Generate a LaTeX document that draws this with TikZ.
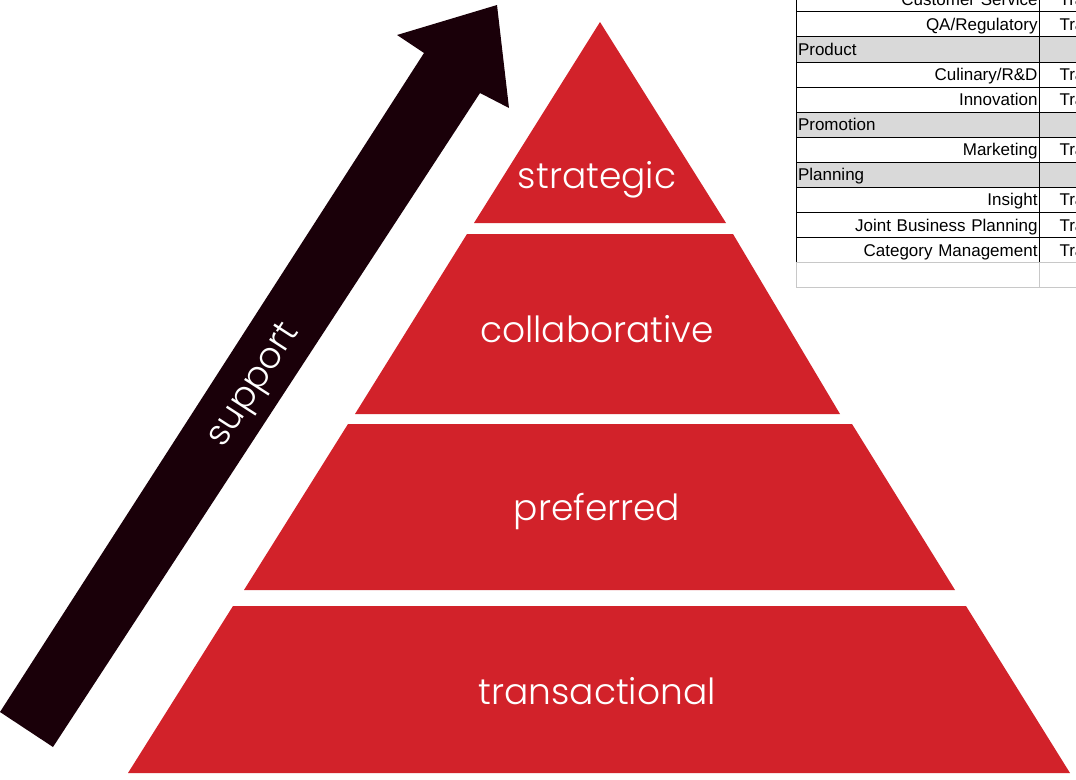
\documentclass[tikz,border=0pt]{standalone}
\usepackage{fontspec}
\newfontfamily\tierfont{Poppins Light}
\newfontfamily\tabfont{Liberation Sans}
\usetikzlibrary{positioning}
\definecolor{tierred}{RGB}{210,34,42}
\definecolor{arrowdark}{RGB}{26,0,9}
\definecolor{headgray}{RGB}{217,217,217}
\definecolor{gridgray}{RGB}{200,200,200}

\begin{document}
\begin{tikzpicture}
[x=1pt,y=-1pt,
 tier/.style={fill=tierred},
 tiertext/.style={text=white,font=\tierfont\fontsize{36}{38}\selectfont,inner sep=0pt},
 cell/.style={draw=black,line width=0.8pt,minimum height=25.1pt,inner ysep=0pt,
              text height=12pt,text depth=0pt,font=\tabfont\fontsize{17}{19}\selectfont},
 lab/.style={cell,text width=239.5pt,inner xsep=2pt,align=right},
 head/.style={cell,fill=headgray,text width=239.5pt,inner xsep=2pt,align=left},
 val/.style={cell,text width=40.5pt,inner xsep=20pt,align=left},
 headval/.style={val,fill=headgray},
 blank/.style={cell,draw=gridgray}]

\useasboundingbox (0,0) rectangle (1076,779);

% pyramid tiers
\path[tier] (600,22) -- (726,223) -- (474,223) -- cycle;
\path[tier] (467,234) -- (733,234) -- (840,414) -- (355,414) -- cycle;
\path[tier] (348,424) -- (852,424) -- (955,590) -- (244,590) -- cycle;
\path[tier] (233,606) -- (966,606) -- (1070,773) -- (128,773) -- cycle;

\node[tiertext] (strategic)     at (597,180) {strategic};
\node[tiertext] (collaborative) at (597,329) {collaborative};
\node[tiertext] (preferred)     at (597,512) {preferred};
\node[tiertext] (transactional) at (597,691) {transactional};

% support arrow
\fill[arrowdark] (0,712) -- (424,53) -- (397,35) -- (497,5) -- (509,108)
  -- (480,93) -- (53,747) -- cycle;
\node[tiertext,rotate=57.2] (support) at (255,386) {support};

% table
\node[lab]  (custsvc)  at (917.75,-0.85)              {Customer Service};
\node[lab]  (qareg)    [on grid,below=25.1pt of custsvc]  {QA/Regulatory};
\node[head] (product)  [on grid,below=25.1pt of qareg]    {Product};
\node[lab]  (culinary) [on grid,below=25.1pt of product]  {Culinary/R\&D};
\node[lab]  (innov)    [on grid,below=25.1pt of culinary] {Innovation};
\node[head] (promo)    [on grid,below=25.1pt of innov]    {Promotion};
\node[lab]  (mktg)     [on grid,below=25.1pt of promo]    {Marketing};
\node[head] (planning) [on grid,below=25.1pt of mktg]     {Planning};
\node[lab]  (insight)  [on grid,below=25.1pt of planning] {Insight};
\node[lab]  (jbp)      [on grid,below=25.1pt of insight]  {Joint Business Planning};
\node[lab]  (catmgmt)  [on grid,below=25.1pt of jbp]      {Category Management};
\node[blank,minimum width=243.5pt] (spare) [on grid,below=25.1pt of catmgmt] {};

\node[val]     (custsvcV)  [on grid,right=162pt of custsvc]  {Tra};
\node[val]     (qaregV)    [on grid,right=162pt of qareg]    {Tra};
\node[headval] (productV)  [on grid,right=162pt of product]  {};
\node[val]     (culinaryV) [on grid,right=162pt of culinary] {Tra};
\node[val]     (innovV)    [on grid,right=162pt of innov]    {Tra};
\node[headval] (promoV)    [on grid,right=162pt of promo]    {};
\node[val]     (mktgV)     [on grid,right=162pt of mktg]     {Tra};
\node[headval] (planningV) [on grid,right=162pt of planning] {};
\node[val]     (insightV)  [on grid,right=162pt of insight]  {Tra};
\node[val]     (jbpV)      [on grid,right=162pt of jbp]      {Tra};
\node[val]     (catmgmtV)  [on grid,right=162pt of catmgmt]  {Tra};
\node[blank,minimum width=80.5pt] (spareV) [on grid,right=162pt of spare] {};

\end{tikzpicture}
\end{document}
